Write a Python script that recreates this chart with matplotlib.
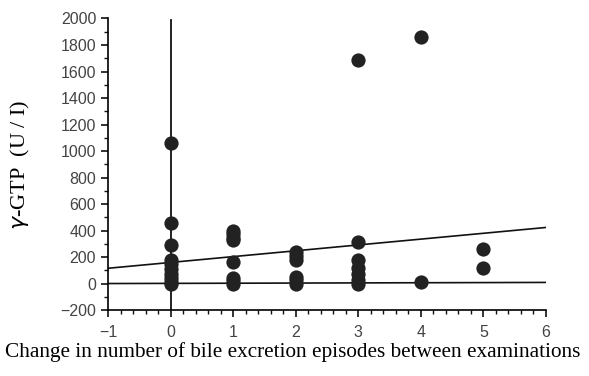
import matplotlib.pyplot as plt
from matplotlib.ticker import MultipleLocator

# change in number of bile excretion episodes
x_vals = [0, 0, 0, 0, 0, 0, 0, 0, 0, 0,
          1, 1, 1, 1, 1, 1, 1, 1,
          2, 2, 2, 2, 2, 2,
          3, 3, 3, 3, 3, 3, 3,
          4, 4,
          5, 5]
# gamma-GTP (U/I)
gtp_vals = [1060, 455, 290, 180, 150, 110, 70, 40, 15, 0,
            400, 370, 345, 325, 160, 45, 20, 0,
            240, 210, 180, 50, 25, 0,
            1690, 310, 180, 120, 70, 25, 0,
            1860, 10,
            260, 120]

# fitted lines (intercept, slope)
upper_fit = (159, 44)
lower_fit = (1, 1.2)
line_x = [-1, 6]

fig = plt.figure(figsize=(5.89, 3.76), dpi=100)
ax = fig.add_axes([0.1834, 0.1755, 0.927 - 0.1834, 0.9508 - 0.1755])

for b0, b1 in (upper_fit, lower_fit):
    ax.plot(line_x, [b0 + b1 * v for v in line_x], color='#111111', lw=1.2, zorder=2)
ax.plot([0, 0], [-200, 1990], color='#111111', lw=1.3, zorder=2)

ax.scatter(x_vals, gtp_vals, s=105, color='#222222', zorder=3, linewidths=0)

ax.set_xlim(-1, 6)
ax.set_ylim(-200, 2000)
ax.spines['top'].set_visible(False)
ax.spines['right'].set_visible(False)
ax.spines['left'].set_linewidth(1.2)
ax.spines['bottom'].set_linewidth(1.2)

ax.xaxis.set_major_locator(MultipleLocator(1))
ax.xaxis.set_minor_locator(MultipleLocator(0.2))
ax.yaxis.set_major_locator(MultipleLocator(200))
ax.yaxis.set_minor_locator(MultipleLocator(100))
ax.tick_params(which='major', direction='out', length=5, width=1.2, colors='#111111',
               labelcolor='#444444', labelsize=11.5)
ax.tick_params(which='minor', direction='out', length=3, width=1.0, colors='#111111')
for lab in ax.get_xticklabels() + ax.get_yticklabels():
    lab.set_family('Liberation Sans')
ax.tick_params(axis='x', pad=6)

fig.text(20 / 589, 1 - 165 / 376, r'$\gamma$-GTP  (U / I)', rotation=90,
         ha='center', va='center', family='Liberation Serif', fontsize=16)
fig.text(0.497, 1 - 352 / 376, 'Change in number of bile excretion episodes between examinations',
         ha='center', va='center', family='Liberation Serif', fontsize=15.3)

fig.savefig('out.png', dpi=100)
